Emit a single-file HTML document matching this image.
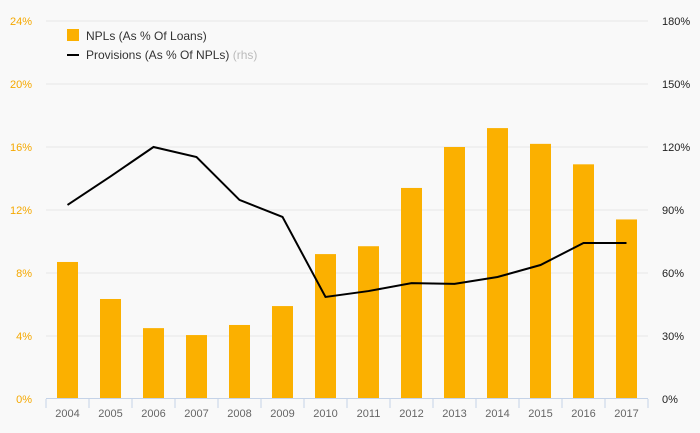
<!DOCTYPE html>
<html><head><meta charset="utf-8"><style>
body{margin:0;background:#f9f9f9;}
svg{display:block;font-family:"Liberation Sans",sans-serif;}
</style></head><body>
<svg id="c" width="700" height="433"></svg>
<script>
const categories=["2004","2005","2006","2007","2008","2009","2010","2011","2012","2013","2014","2015","2016","2017"];
const npls=[8.7,6.35,4.5,4.06,4.7,5.9,9.2,9.7,13.4,16.0,17.2,16.2,14.9,11.4];
const provisions=[92.4,106,120,115.2,94.8,86.7,48.6,51.4,55.2,54.8,58.1,63.8,74.3,74.3];
const leftTicks=[0,4,8,12,16,20,24];
const rightTicks=[0,30,60,90,120,150,180];
const svg=document.getElementById('c');
const NS='http://www.w3.org/2000/svg';
const x0=46,x1=648,yTop=21,yBot=399;
const step=(x1-x0)/categories.length;
const xc=i=>x0+step*(i+0.5);
const yL=v=>yBot-(v/24)*(yBot-yTop);
const yR=v=>yBot-(v/180)*(yBot-yTop);
function mk(t,a,txt){const e=document.createElementNS(NS,t);for(const k in a)e.setAttribute(k,a[k]);if(txt!==undefined)e.textContent=txt;svg.appendChild(e);return e;}
leftTicks.forEach((v,i)=>{
  if(v>0){const g=mk('line',{x1:x0,x2:x1,y1:yL(v),y2:yL(v),stroke:'#e6e6e6','stroke-width':1});
  
  }
  const t=mk('text',{x:32,y:yL(v)+4,'text-anchor':'end','font-size':11,fill:'#f5a800'},v+'%');
  
  
});
rightTicks.forEach(v=>{
  const t=mk('text',{x:662,y:yR(v)+4,'text-anchor':'start','font-size':11,fill:'#222'},v+'%');
  
  
});
npls.forEach((v,i)=>{
  const r=mk('rect',{x:xc(i)-10.5,y:yL(v),width:21,height:yBot-yL(v),fill:'#fbb000'});
  
  
  const t=mk('text',{x:xc(i),y:417,'text-anchor':'middle','font-size':11,fill:'#666'},categories[i]);
  
  
});
const ax=mk('line',{x1:x0,x2:x1,y1:yBot-0.5,y2:yBot-0.5,stroke:'#c5d3e8','stroke-width':1});


for(let i=0;i<=categories.length;i++){
  const tk=mk('line',{x1:x0+step*i,x2:x0+step*i,y1:yBot,y2:yBot+9,stroke:'#c5d3e8','stroke-width':1});
  
  
}
const pl=mk('polyline',{points:provisions.map((v,i)=>xc(i)+','+yR(v)).join(' '),fill:'none',stroke:'#000','stroke-width':2});


const lg=mk('rect',{x:67,y:29,width:12,height:12,fill:'#fbb000'});


const lt=mk('text',{x:86,y:40,'font-size':12,fill:'#333'},'NPLs (As % Of Loans)');


const ll=mk('line',{x1:67,x2:79,y1:55,y2:55,stroke:'#000','stroke-width':2});


const l2=mk('text',{x:86,y:59,'font-size':12,fill:'#333'});
l2.innerHTML='Provisions (As % Of NPLs) <tspan fill="#bbb">(rhs)</tspan>';


</script>
</body></html>
